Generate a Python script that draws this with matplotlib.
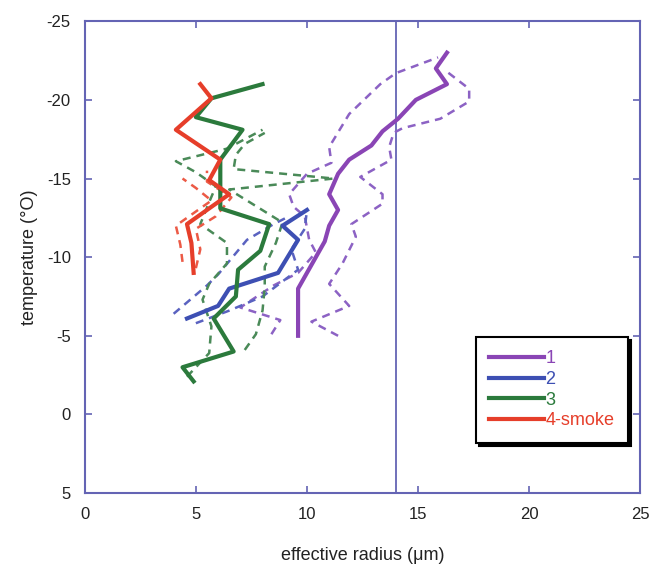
import matplotlib
matplotlib.use("Agg")
import matplotlib.pyplot as plt

plt.rcParams['font.family'] = ['Liberation Sans', 'DejaVu Sans']

# ---- data (effective radius in um, temperature in degC) ----
s1_r = [9.6, 9.6, 10.8, 11.0, 11.4, 11.0, 11.4, 11.9, 12.9, 13.4, 14.1, 14.9, 16.3, 15.8, 16.3]
s1_t = [-5.0, -8.0, -11.0, -12.0, -13.0, -14.0, -15.3, -16.2, -17.1, -18.0, -18.8, -20.0, -21.0, -22.0, -23.0]
s1_lo_r = [8.4, 8.8, 7.0, 8.5, 9.6, 10.4, 10.1, 9.9, 9.4, 9.2, 10.0, 11.1, 11.0, 11.9, 13.3, 14.0, 15.9]
s1_lo_t = [-5.1, -6.0, -6.8, -8.2, -9.0, -10.3, -11.1, -12.6, -13.2, -14.0, -15.3, -16.0, -17.0, -19.1, -21.0, -21.7, -22.7]
s1_hi_r = [11.4, 10.2, 11.9, 11.0, 11.6, 12.2, 12.0, 13.4, 13.4, 12.4, 13.8, 13.7, 13.9, 14.3, 16.0, 17.3, 17.3, 16.2]
s1_hi_t = [-5.0, -5.9, -6.9, -8.3, -9.6, -11.3, -12.1, -13.4, -14.0, -15.1, -16.2, -17.0, -17.9, -18.2, -18.8, -19.9, -20.7, -21.9]

s2_r = [4.6, 6.0, 6.5, 8.7, 9.6, 8.9, 10.0]
s2_t = [-6.1, -6.9, -8.0, -9.0, -11.1, -12.0, -13.0]
s2_lo_r = [4.0, 5.5, 6.0, 7.3, 8.5, 9.2]
s2_lo_t = [-6.4, -8.2, -8.9, -11.1, -12.1, -12.6]
s2_hi_r = [5.0, 6.5, 8.0, 9.6, 9.3, 9.9, 10.0]
s2_hi_t = [-5.8, -6.6, -7.5, -9.2, -10.5, -11.8, -13.0]

s3_r = [4.9, 4.4, 6.7, 5.8, 6.8, 6.9, 7.9, 8.3, 6.1, 6.1, 7.1, 5.0, 5.7, 8.0]
s3_t = [-2.1, -3.0, -4.0, -6.1, -7.5, -9.2, -10.4, -12.1, -13.1, -16.2, -18.1, -18.9, -20.1, -21.0]
s3_lo_r = [4.6, 5.6, 5.7, 5.3, 5.6, 6.4, 6.4, 5.2, 5.6, 5.9, 5.0, 4.1, 6.4, 8.0]
s3_lo_t = [-2.4, -3.9, -5.6, -7.3, -8.3, -9.6, -10.9, -12.1, -13.5, -14.5, -15.4, -16.1, -16.9, -18.1]
s3_hi_r = [7.2, 7.7, 8.0, 8.1, 8.1, 8.6, 8.9, 6.5, 11.2, 6.7, 6.8, 7.2, 8.1]
s3_hi_t = [-4.1, -5.1, -6.6, -8.1, -9.4, -10.9, -12.2, -14.3, -15.0, -15.6, -16.5, -17.2, -17.9]

s4_r = [4.9, 4.8, 4.6, 6.5, 5.6, 6.1, 4.1, 5.7, 5.2]
s4_t = [-9.0, -10.9, -12.1, -14.0, -14.9, -16.2, -18.1, -20.1, -21.0]
s4_lo_r = [4.4, 4.3, 4.1, 5.0, 5.7, 5.0, 4.4]
s4_lo_t = [-9.7, -10.8, -12.0, -12.9, -13.6, -14.4, -15.0]
s4_hi_r = [5.0, 5.2, 5.0, 5.9, 6.6, 5.5, 5.5]
s4_hi_t = [-9.3, -10.5, -11.8, -12.6, -13.8, -14.8, -15.5]

ref_radius = 14
labels = ['1', '2', '3', '4-smoke']
colors = ['#8a45b5', '#3d4fb3', '#2b7a3c', '#e63e2a']
dash_colors = ['#8c62c4', '#5a62c0', '#4a8a58', '#ec5a46']

xticks = [0, 5, 10, 15, 20, 25]
yticks = [5, 0, -5, -10, -15, -20, -25]

axis_color = '#6464b4'

fig = plt.figure(figsize=(6.52, 5.74), dpi=100)
ax = fig.add_axes([0.130, 0.141, 0.852, 0.822])

series = [
    (s1_r, s1_t, s1_lo_r, s1_lo_t, s1_hi_r, s1_hi_t),
    (s2_r, s2_t, s2_lo_r, s2_lo_t, s2_hi_r, s2_hi_t),
    (s3_r, s3_t, s3_lo_r, s3_lo_t, s3_hi_r, s3_hi_t),
    (s4_r, s4_t, s4_lo_r, s4_lo_t, s4_hi_r, s4_hi_t),
]

dash = (0, (3.2, 2.4))
for (r, t, lr, lt, hr, ht), c, dc in zip(series, colors, dash_colors):
    ax.plot(lr, lt, color=dc, lw=1.8, linestyle=dash, zorder=2)
    ax.plot(hr, ht, color=dc, lw=1.8, linestyle=dash, zorder=2)

handles = []
for (r, t, *_), c, lab in zip(series, colors, labels):
    h, = ax.plot(r, t, color=c, lw=3.0, zorder=3, label=lab)
    handles.append(h)

ax.axvline(ref_radius, color=axis_color, lw=1.3, zorder=1)

ax.set_xlim(0, 25)
ax.set_ylim(5, -25)
ax.set_xticks(xticks)
ax.set_yticks(yticks)
ax.set_xticklabels([str(v) for v in xticks])
ax.set_yticklabels([str(v) for v in yticks])
ax.tick_params(direction='in', length=5, width=1.2, color=axis_color,
               top=True, right=True, labelsize=12, pad=10, labelcolor='#222222')
for sp in ax.spines.values():
    sp.set_color(axis_color)
    sp.set_linewidth(1.5)

ax.set_xlabel('effective radius (\u03bcm)', fontsize=13, labelpad=18, color='#222222')
ax.set_ylabel('temperature (\u00b0O)', fontsize=13, labelpad=6, color='#222222')

leg = ax.legend(handles=handles, loc='upper left', bbox_to_anchor=(0.704, 0.331),
                frameon=True, fancybox=False, shadow={'color': 'black', 'alpha': 1},
                edgecolor='black', framealpha=1, fontsize=13, labelcolor='linecolor',
                handlelength=3.0, handletextpad=0.1, borderpad=0.75, labelspacing=0.2,
                borderaxespad=0)
leg.get_frame().set_linewidth(1.5)
leg.set_zorder(5)
# widen frame to the right a bit, like the reference box
fig.canvas.draw()
leg._legend_box.set_width  # noqa (no-op)

fig.savefig('out.png', dpi=100, facecolor='white')
